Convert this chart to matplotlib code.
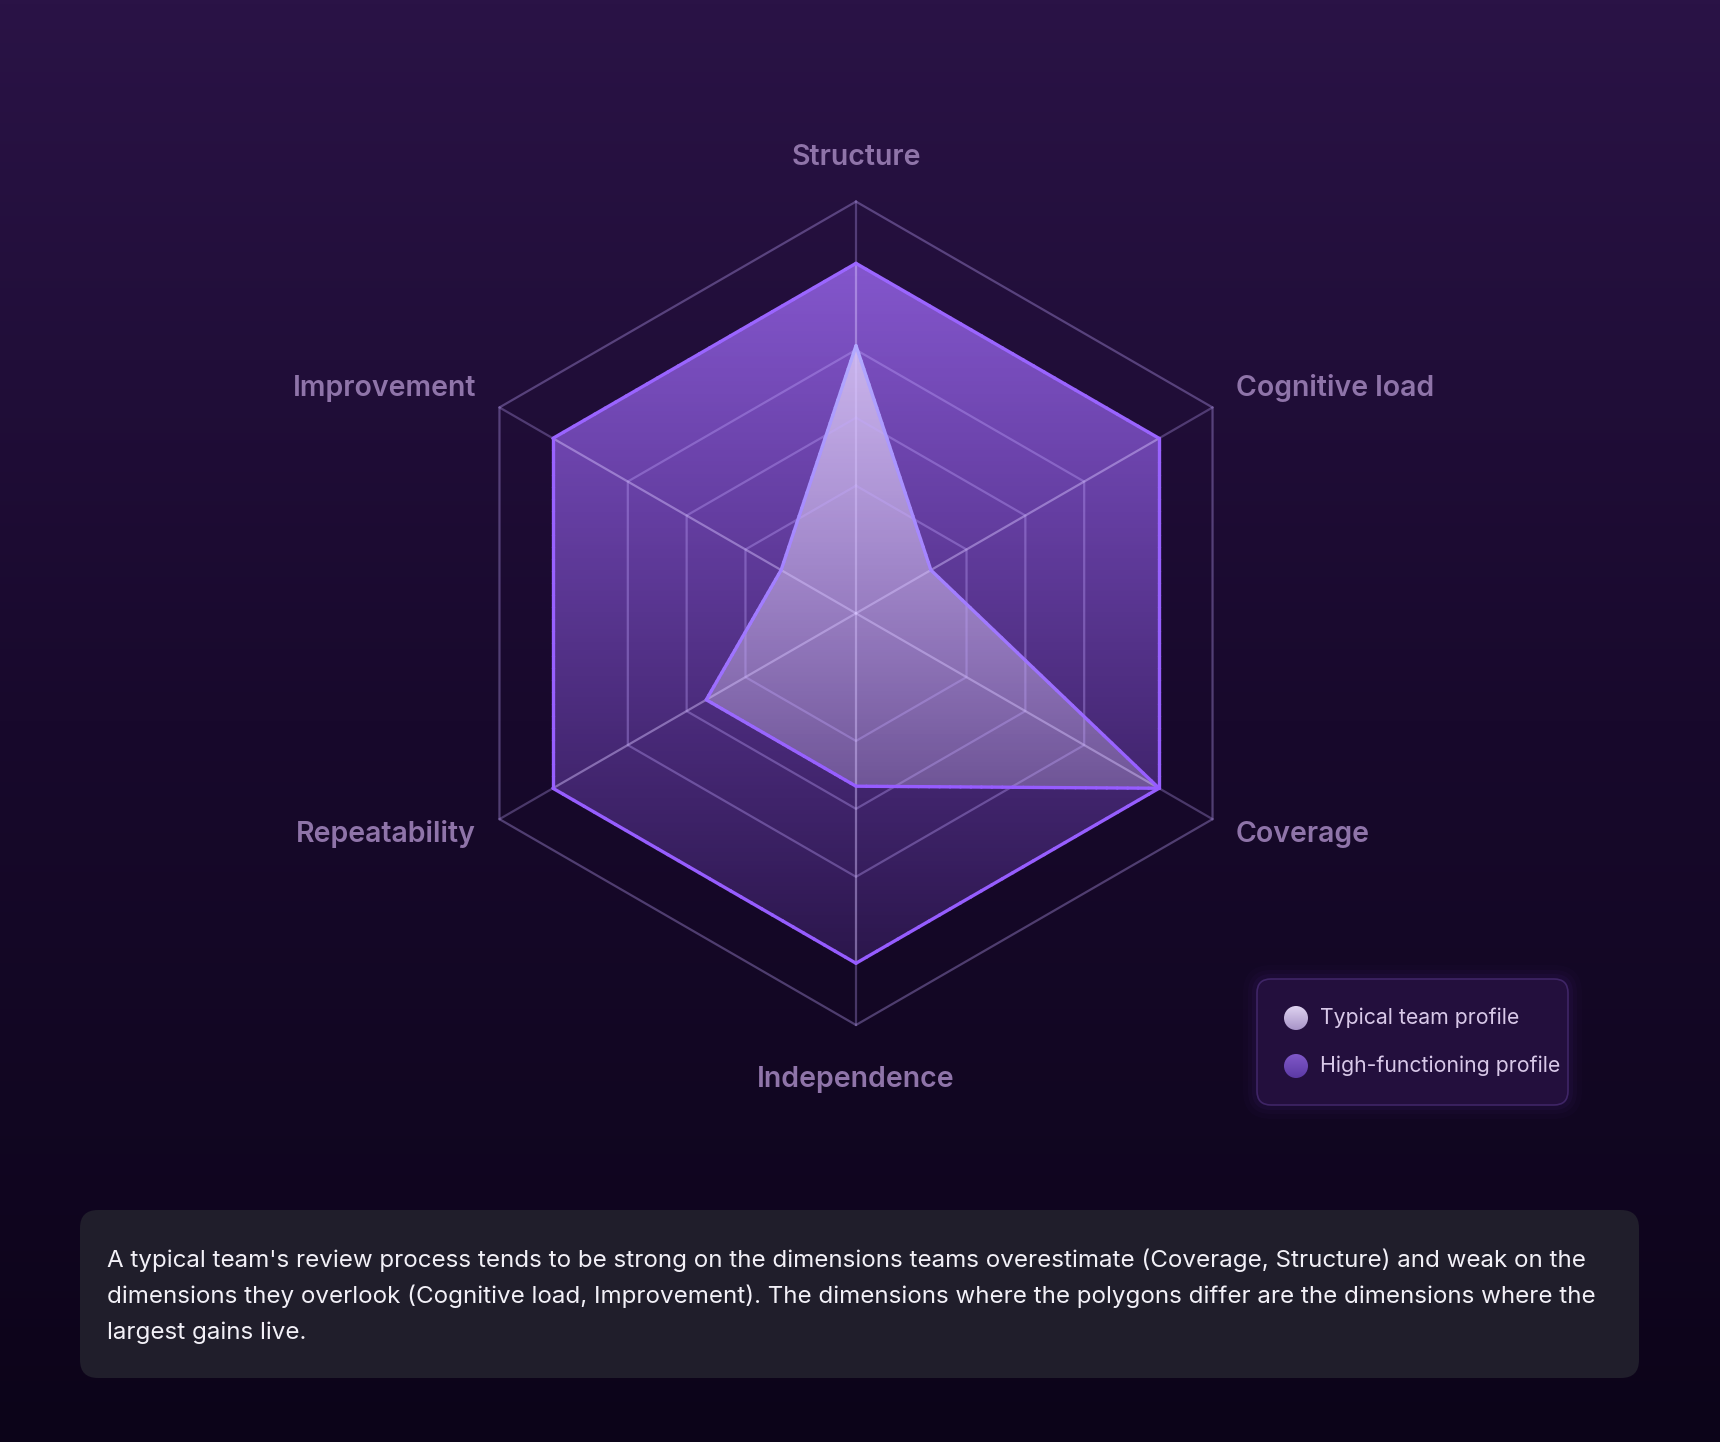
import numpy as np
import matplotlib
matplotlib.use("Agg")
import matplotlib.pyplot as plt
from matplotlib.patches import Polygon, FancyBboxPatch, Circle
from matplotlib.collections import LineCollection

plt.rcParams['font.family'] = ['Inter', 'DejaVu Sans']

# data
dimensions = ["Structure", "Cognitive load", "Coverage", "Independence", "Repeatability", "Improvement"]
typical = [65, 21, 85, 42, 42, 21]
high_functioning = [85, 85, 85, 85, 85, 85]
ring_levels = [31, 47.5, 64, 100]
scale_max = 100
legend_labels = ["Typical team profile", "High-functioning profile"]
caption_lines = [
    "A typical team's review process tends to be strong on the dimensions teams overestimate (Coverage, Structure) and weak on the",
    "dimensions they overlook (Cognitive load, Improvement). The dimensions where the polygons differ are the dimensions where the",
    "largest gains live.",
]

W, H = 1720, 1442
fig = plt.figure(figsize=(W / 100, H / 100), dpi=100)
fig.patch.set_facecolor("#0c0419")

# background gradient
bg = fig.add_axes([0, 0, 1, 1], zorder=-10)
t = np.linspace(0, 1, 400)[:, None]
top = np.array([42, 19, 70]) / 255
mid = np.array([24, 9, 44]) / 255
bot = np.array([12, 4, 25]) / 255
grad = np.where(t < 0.5, top + (mid - top) * (t / 0.5)[..., None][:, 0],
                mid + (bot - mid) * ((t - 0.5) / 0.5)[..., None][:, 0])
bg.imshow(grad[:, None, :].repeat(2, axis=1), aspect="auto", extent=[0, 1, 0, 1], origin="upper")
bg.axis("off")

# radar axes, pixel geometry
cx, cy, R = 856, 613.3, 411.7
lim = 1.3
half = lim * R
ax = fig.add_axes([(cx - half) / W, (H - cy - half) / H, 2 * half / W, 2 * half / H])
ax.set_xlim(-lim, lim)
ax.set_ylim(-lim, lim)
ax.axis("off")

n = len(dimensions)
theta = np.arange(n) * 2 * np.pi / n


def to_xy(vals):
    r = np.asarray(vals, dtype=float) / scale_max
    return r * np.sin(theta), r * np.cos(theta)


def gradient_fill(axis, xs, ys, rgb, a_top, a_bot, z, rgb_bot=None):
    poly = Polygon(np.column_stack([xs, ys]), closed=True, fc="none", ec="none")
    axis.add_patch(poly)
    m = 256
    s = np.linspace(0, 1, m)[:, None]
    c0 = np.array(rgb) / 255
    c1 = c0 if rgb_bot is None else np.array(rgb_bot) / 255
    img = np.zeros((m, 1, 4))
    img[:, 0, :3] = c0 + (c1 - c0) * s
    img[:, 0, 3] = (a_top + (a_bot - a_top) * s)[:, 0]
    im = axis.imshow(img, extent=[min(xs), max(xs), min(ys), max(ys)], origin="upper",
                     aspect="auto", zorder=z, interpolation="bilinear")
    im.set_clip_path(poly)


def gradient_edge(axis, xs, ys, c_top, c_bot, lw, z):
    xs = np.append(xs, xs[0])
    ys = np.append(ys, ys[0])
    segs, cols = [], []
    lo, hi = ys.min(), ys.max()
    for i in range(len(xs) - 1):
        px = np.linspace(xs[i], xs[i + 1], 30)
        py = np.linspace(ys[i], ys[i + 1], 30)
        for j in range(29):
            segs.append([(px[j], py[j]), (px[j + 1], py[j + 1])])
            f = (hi - (py[j] + py[j + 1]) / 2) / (hi - lo)
            cols.append(tuple((np.array(c_top) + (np.array(c_bot) - np.array(c_top)) * f) / 255))
    lc = LineCollection(segs, colors=cols, linewidths=lw, zorder=z, capstyle="round", joinstyle="round")
    axis.add_collection(lc)


# high-functioning polygon
hx, hy = to_xy(high_functioning)
gradient_fill(ax, hx, hy, (150, 100, 232), 0.85, 0.2, 2, rgb_bot=(140, 85, 230))
# typical polygon
tx, ty = to_xy(typical)
gradient_fill(ax, tx, ty, (228, 214, 250), 0.76, 0.32, 3, rgb_bot=(210, 190, 240))

# grid rings and spokes (spokes a little brighter inside the filled area)
ring_col = (195 / 255, 168 / 255, 255 / 255, 0.34)
spoke_in = (215 / 255, 195 / 255, 255 / 255, 0.45)
spoke_out = (195 / 255, 168 / 255, 255 / 255, 0.3)
for lv in ring_levels:
    gx, gy = to_xy([lv] * n)
    ax.plot(np.append(gx, gx[0]), np.append(gy, gy[0]), color=ring_col, lw=1.6, zorder=4)
ox, oy = to_xy([ring_levels[-1]] * n)
for i in range(n):
    ax.plot([0, hx[i]], [0, hy[i]], color=spoke_in, lw=1.6, zorder=4)
    ax.plot([hx[i], ox[i]], [hy[i], oy[i]], color=spoke_out, lw=1.6, zorder=4)

gradient_edge(ax, hx, hy, (155, 102, 255), (150, 92, 255), 2.4, 5)
gradient_edge(ax, tx, ty, (178, 170, 255), (150, 92, 255), 2.4, 6)

# axis labels
for i, name in enumerate(dimensions):
    s, c = np.sin(theta[i]), np.cos(theta[i])
    if abs(s) < 0.01:
        ha = "center"
        off = (0, 37) if c > 0 else (0, -41)
        va = "baseline" if c > 0 else "top"
    else:
        ha = "left" if s > 0 else "right"
        va = "baseline"
        off = (23.5 * np.sign(s), 11 if c > 0 else -22.5)
    ax.annotate(name, xy=(ox[i], oy[i]), xytext=off, textcoords="offset pixels",
                ha=ha, va=va, fontsize=20.5, fontweight="semibold", color="#8f74a9",
                annotation_clip=False)

# overlay for legend and caption, pixel coords (y from top)
ov = fig.add_axes([0, 0, 1, 1], zorder=10)
ov.set_xlim(0, W)
ov.set_ylim(H, 0)
ov.axis("off")

# legend box with soft glow
lx0, ly0, lx1, ly1 = 1257, 979, 1568, 1105
for k, a in [(14, 0.025), (9, 0.035), (5, 0.05)]:
    ov.add_patch(FancyBboxPatch((lx0 - k, ly0 - k), lx1 - lx0 + 2 * k, ly1 - ly0 + 2 * k,
                                boxstyle="round,pad=0,rounding_size=%d" % (14 + k),
                                fc=(0.45, 0.25, 0.8, a), ec="none", zorder=1))
ov.add_patch(FancyBboxPatch((lx0, ly0), lx1 - lx0, ly1 - ly0,
                            boxstyle="round,pad=0,rounding_size=14",
                            fc="#230f3d", ec="#3f2566", lw=1.2, zorder=2))
marker_cols = [((222, 210, 240), (168, 148, 200)), ((128, 88, 200), (92, 58, 165))]
for j, lab in enumerate(legend_labels):
    my = 1018 + j * 48
    circ = Circle((1296, my), 12, fc="none", ec="none")
    ov.add_patch(circ)
    c0 = np.array(marker_cols[j][0]) / 255
    c1 = np.array(marker_cols[j][1]) / 255
    s = np.linspace(0, 1, 64)[:, None]
    img = np.zeros((64, 1, 3))
    img[:, 0, :] = c0 + (c1 - c0) * s
    im = ov.imshow(img, extent=[1284, 1308, my + 12, my - 12], aspect="auto", zorder=3,
                   interpolation="bilinear")
    im.set_clip_path(circ)
    ov.text(1320, my, lab, ha="left", va="center", fontsize=15.3, color="#d8c8e8", zorder=4)
ov.set_xlim(0, W)
ov.set_ylim(H, 0)

# caption card
ov.add_patch(FancyBboxPatch((80, 1210), 1559, 168, boxstyle="round,pad=0,rounding_size=18",
                            fc="#201e2b", ec="none", zorder=2))
for k, line in enumerate(caption_lines):
    ov.text(107, 1260 + k * 36.5, line, ha="left", va="center", fontsize=17.4,
            color="#f2f0f7", zorder=3)

fig.savefig("out.png", dpi=100, facecolor=fig.get_facecolor())
